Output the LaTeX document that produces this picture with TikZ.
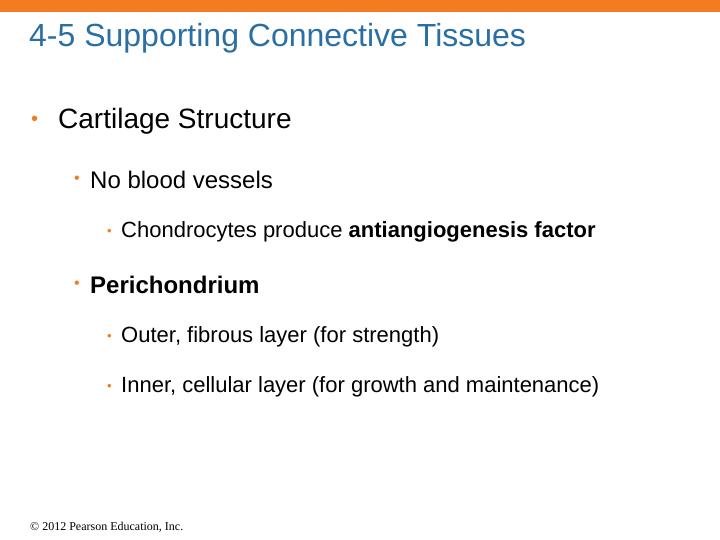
\documentclass[tikz,border=0pt]{standalone}
\usepackage{fontspec}
\setmainfont{Liberation Sans}
\newfontfamily\seriff{Liberation Serif}
\definecolor{topbar}{HTML}{F47B20}
\definecolor{titleblue}{HTML}{2A6FA3}
\definecolor{bul}{HTML}{F47B20}
\begin{document}
\begin{tikzpicture}[x=1pt,y=-1pt,
  lvl/.style={anchor=west,inner sep=0pt,text=black},
  dot/.style={anchor=west,inner sep=0pt,text=bul}]
\useasboundingbox (0,0) rectangle (720,540);
\fill[topbar] (0,0) rectangle (720,12);
\node[anchor=west,inner sep=0pt,text=titleblue,font=\fontsize{32}{36}\selectfont] (title) at (29,38) {4-5 Supporting Connective Tissues};
\node[dot,font=\fontsize{20}{24}\selectfont] (b1) at (31,121) {•};
\node[lvl,font=\fontsize{28}{32}\selectfont] (t1) at (58,121) {Cartilage Structure};
\node[dot,font=\fontsize{16}{20}\selectfont] (b2) at (74,180) {•};
\node[lvl,font=\fontsize{24}{28}\selectfont] (t2) at (90,180) {No blood vessels};
\node[dot,font=\fontsize{13}{16}\selectfont] (b3) at (107,232) {•};
\node[lvl,font=\fontsize{22}{26}\selectfont] (t3) at (121,232) {Chondrocytes produce \textbf{antiangiogenesis factor}};
\node[dot,font=\fontsize{16}{20}\selectfont] (b4) at (74,285) {•};
\node[lvl,font=\fontsize{24}{28}\selectfont] (t4) at (90,285) {\textbf{Perichondrium}};
\node[dot,font=\fontsize{13}{16}\selectfont] (b5) at (107,337) {•};
\node[lvl,font=\fontsize{22}{26}\selectfont] (t5) at (121,337) {Outer, fibrous layer (for strength)};
\node[dot,font=\fontsize{13}{16}\selectfont] (b6) at (107,387) {•};
\node[lvl,font=\fontsize{22}{26}\selectfont] (t6) at (121,387) {Inner, cellular layer (for growth and maintenance)};
\node[lvl,font=\seriff\fontsize{12}{14}\selectfont] (foot) at (30,527) {© 2012 Pearson Education, Inc.};
\end{tikzpicture}
\end{document}
